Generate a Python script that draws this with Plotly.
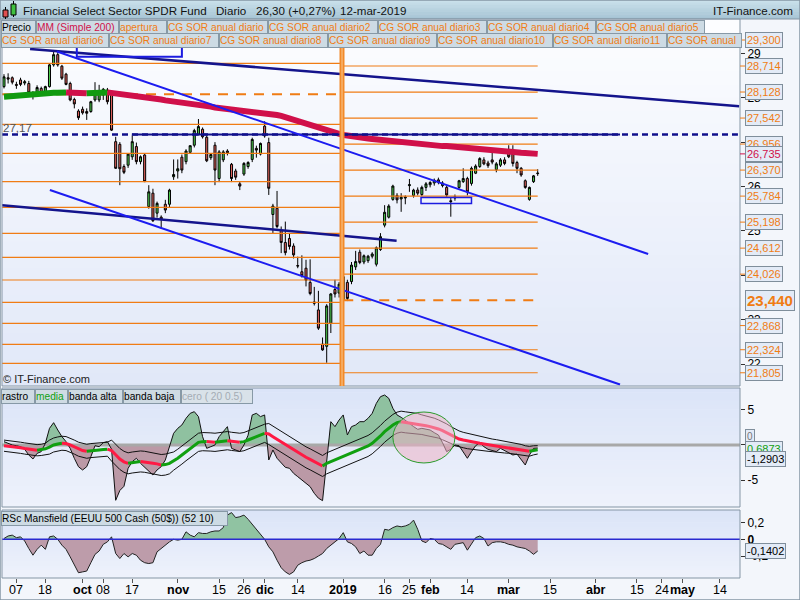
import plotly.graph_objects as go
import pandas as pd

# ---------------- DATA ----------------
holidays = ["2018-11-22", "2018-12-05", "2018-12-25", "2019-01-01",
            "2019-01-21", "2019-02-18", "2019-04-19"]
calendar = [d.strftime("%Y-%m-%d") for d in pd.bdate_range("2018-09-04", "2019-05-31")
            if d.strftime("%Y-%m-%d") not in holidays]
candle_dates = calendar[:130]

opens = [28.25, 28.45, 28.45, 28.30, 28.40, 28.33, 28.32, 28.10, 28.11, 28.21,
         28.11, 28.25, 28.74, 28.97, 28.71, 28.53, 28.32, 27.96, 27.70, 27.74,
         27.69, 27.69, 27.95, 27.95, 28.06, 28.17, 28.14, 27.01, 26.95, 26.45,
         26.48, 26.67, 26.90, 26.56, 26.71, 25.55, 25.85, 25.40, 25.31, 25.60,
         25.60, 26.22, 26.35, 26.66, 26.56, 26.77, 26.93, 27.18, 27.29, 27.11,
         26.65, 26.93, 26.18, 26.60, 26.80, 26.50, 26.35, 26.06, 26.28, 26.45,
         26.61, 26.86, 26.73, 27.36, 26.99, 25.37, 25.51, 25.02, 24.74, 24.83,
         24.66, 24.22, 24.08, 24.16, 23.84, 23.40, 23.22, 22.45, 22.40, 22.92,
         23.68, 23.60, 23.45, 23.84, 23.86, 24.19, 24.52, 24.30, 24.33, 24.43,
         24.25, 24.58, 25.13, 25.31, 25.71, 25.80, 25.72, 25.74, 26.02, 25.80,
         25.92, 25.82, 25.98, 26.04, 26.08, 26.15, 26.02, 25.98, 25.68, 25.74,
         25.98, 26.11, 26.18, 26.07, 26.30, 26.45, 26.60, 26.53, 26.60, 26.38,
         26.48, 26.60, 26.75, 26.73, 26.54, 26.41, 26.13, 25.71, 26.11, 26.29]
highs = [28.53, 28.55, 28.48, 28.36, 28.45, 28.40, 28.38, 28.15, 28.28, 28.25,
         28.27, 28.76, 29.05, 29.05, 28.74, 28.56, 28.36, 28.00, 27.74, 27.80,
         27.76, 27.93, 28.35, 28.29, 28.22, 28.22, 28.16, 27.12, 27.00, 26.50,
         26.75, 27.15, 26.99, 26.70, 26.74, 26.03, 25.95, 25.66, 25.35, 25.70,
         25.95, 26.61, 26.61, 26.72, 26.84, 26.92, 27.30, 27.52, 27.33, 27.15,
         26.75, 27.00, 26.82, 26.82, 26.84, 26.53, 26.40, 26.11, 26.55, 26.57,
         27.10, 26.92, 26.99, 27.47, 27.10, 25.61, 25.90, 25.10, 25.21, 24.95,
         24.72, 24.42, 24.45, 24.35, 24.36, 23.74, 23.65, 22.60, 23.35, 23.60,
         23.90, 23.85, 24.02, 23.90, 24.30, 24.55, 24.58, 24.47, 24.46, 24.52,
         24.65, 24.95, 25.58, 25.60, 26.04, 25.85, 25.85, 25.80, 26.17, 25.95,
         25.98, 26.02, 26.10, 26.12, 26.18, 26.20, 26.12, 26.02, 25.76, 25.82,
         26.15, 26.41, 26.22, 26.45, 26.50, 26.66, 26.66, 26.58, 26.76, 26.55,
         26.64, 26.66, 26.93, 26.93, 26.58, 26.44, 26.16, 26.00, 26.26, 26.39]
lows = [28.21, 28.32, 28.30, 28.20, 28.26, 28.28, 28.08, 27.96, 28.08, 28.08,
        28.08, 28.23, 28.70, 28.70, 28.40, 28.28, 27.92, 27.76, 27.50, 27.62,
        27.50, 27.66, 27.91, 27.90, 27.95, 27.85, 27.25, 26.40, 26.03, 26.28,
        26.42, 26.60, 26.50, 26.50, 26.10, 25.50, 25.20, 25.30, 25.05, 25.40,
        25.52, 26.15, 26.18, 26.30, 26.50, 26.74, 26.88, 27.15, 27.08, 26.55,
        26.60, 26.03, 26.10, 26.55, 26.70, 26.10, 26.15, 25.92, 26.24, 26.40,
        26.55, 26.65, 26.70, 27.10, 25.81, 24.95, 25.06, 24.50, 24.45, 24.58,
        24.38, 24.16, 23.95, 23.75, 23.55, 23.32, 22.77, 22.30, 22.03, 22.70,
        23.50, 23.50, 23.40, 23.42, 23.80, 24.12, 24.25, 24.25, 24.28, 24.38,
        24.20, 24.55, 25.08, 25.28, 25.68, 25.62, 25.43, 25.60, 25.88, 25.75,
        25.80, 25.78, 25.90, 25.98, 26.02, 26.05, 25.98, 25.75, 25.32, 25.68,
        25.95, 26.08, 25.80, 26.02, 26.28, 26.42, 26.48, 26.42, 26.50, 26.32,
        26.44, 26.48, 26.64, 26.45, 26.30, 26.22, 25.95, 25.68, 26.08, 26.24]
closes = [28.47, 28.42, 28.35, 28.28, 28.30, 28.36, 28.11, 28.08, 28.23, 28.11,
          28.25, 28.74, 28.97, 28.74, 28.44, 28.30, 27.95, 27.86, 27.55, 27.66,
          27.65, 27.91, 28.14, 28.10, 28.19, 27.91, 27.27, 26.41, 26.40, 26.32,
          26.73, 27.01, 26.56, 26.67, 26.11, 25.88, 25.23, 25.62, 25.27, 25.47,
          25.92, 26.27, 26.40, 26.37, 26.80, 26.92, 27.26, 27.35, 27.12, 26.58,
          26.72, 26.37, 26.78, 26.78, 26.76, 26.18, 26.21, 26.01, 26.52, 26.54,
          27.06, 26.82, 26.97, 27.14, 25.96, 25.56, 25.10, 24.74, 24.51, 24.65,
          24.46, 24.21, 23.99, 23.89, 23.59, 23.37, 22.81, 22.32, 23.31, 23.58,
          23.58, 23.80, 23.97, 23.48, 24.23, 24.31, 24.29, 24.44, 24.43, 24.48,
          24.62, 24.87, 25.42, 25.56, 26.01, 25.70, 25.76, 25.76, 26.04, 25.92,
          25.85, 25.98, 26.06, 26.09, 26.14, 26.10, 26.08, 25.81, 25.66, 25.77,
          26.13, 26.18, 25.88, 26.41, 26.46, 26.63, 26.51, 26.47, 26.55, 26.51,
          26.60, 26.52, 26.67, 26.52, 26.41, 26.26, 25.98, 25.98, 26.24, 26.30]

ma200 = [28.02, 28.03, 28.04, 28.05, 28.06, 28.06,
         28.07, 28.08, 28.08, 28.09, 28.10, 28.10, 28.11, 28.11, 28.115, 28.12,
         28.115, 28.11, 28.11, 28.105, 28.10,
         28.105, 28.11, 28.115, 28.12, 28.12,
         28.11, 28.10, 28.09, 28.08, 28.07, 28.05, 28.04, 28.02,
         28.01, 28.00, 27.98, 27.97, 27.96, 27.94, 27.93, 27.92, 27.91, 27.90, 27.89, 27.88, 27.86, 27.84,
         27.83, 27.81, 27.80, 27.78, 27.77, 27.75, 27.74, 27.72,
         27.71, 27.71, 27.70, 27.70, 27.69, 27.69, 27.68, 27.67, 27.66,
         27.64, 27.61, 27.59, 27.56, 27.54, 27.52, 27.49, 27.46,
         27.43, 27.40, 27.37, 27.34, 27.31, 27.28, 27.25, 27.22, 27.19, 27.16,
         27.15, 27.13, 27.12, 27.10, 27.09, 27.08, 27.07, 27.06, 27.05, 27.04, 27.02, 27.01, 27.00, 26.98,
         26.97, 26.97, 26.96, 26.95, 26.95, 26.94, 26.93, 26.93, 26.92, 26.91, 26.91, 26.90, 26.89, 26.89, 26.88, 26.87,
         26.86, 26.86, 26.85, 26.84, 26.83, 26.83, 26.82, 26.81, 26.80, 26.79, 26.78, 26.77, 26.76, 26.755, 26.75, 26.74, 26.735]

rastro = [0.48, 0.24, 0.0, -0.1, -0.24, -0.62, -1.43, -2.0, -1.2, -0.95,
          0.24, 2.38, 3.19, 2.14, 1.19, 0.48, -0.48, -1.9, -3.1, -3.57,
          -3.1, -1.67, -0.1, -0.24, 0.33, 0.48, -0.6, -7.9, -6.5, -5.9,
          -3.33, -2.38, -1.9, -2.62, -3.19, -3.8, -4.29, -3.57, -3.1, -2.14,
          -0.24, 1.67, 2.38, 2.86, 3.81, 4.52, 4.76, 4.05, 1.19, -0.48,
          -0.24, 0.0, 1.19, 1.9, 2.62, -0.48, -0.71, -0.95, 0.0, 1.4,
          4.29, 4.52, 4.05, 4.29, -2.14, -0.71, -1.9, -2.62, -3.19, -3.33,
          -4.05, -4.52, -5.0, -5.48, -5.95, -6.9, -7.6, -7.95, -1.9, 3.33,
          2.62, 3.57, 4.29, 1.43, 2.62, 2.86, 3.33, 3.33, 3.81, 4.52,
          5.95, 6.9, 7.14, 6.67, 5.24, 4.29, 3.95, 3.57, 3.1, 2.62,
          2.24, 2.38, 2.24, 2.14, 1.76, 1.43, 0.33, -0.95, -0.62, 0.0,
          -0.1, -0.95, -1.9, -0.95, -0.1, 0.33, -0.24, -0.62, -0.8, -0.95,
          -0.48, -0.8, -1.1, -1.43, -1.3, -2.14, -2.86, -1.43, -0.48, -0.45]
media = [-0.1, -0.15, -0.2, -0.3, -0.4, -0.5, -0.6, -0.7, -0.75, -0.7,
         -0.55, -0.3, 0.0, 0.15, 0.25, 0.2, 0.0, -0.3, -0.6, -0.8,
         -0.9, -0.8, -0.75, -0.7, -0.65, -0.6, -0.8, -1.4, -2.0, -2.4,
         -2.62, -2.5, -2.4, -2.35, -2.4, -2.5, -2.6, -2.7, -2.86, -2.8,
         -2.62, -2.3, -1.9, -1.43, -0.95, -0.48, 0.0, 0.38, 0.48, 0.5,
         0.43, 0.38, 0.43, 0.52, 0.62, 0.52, 0.43, 0.38, 0.48, 0.71,
         0.95, 1.19, 1.43, 1.67, 1.57, 1.19, 0.81, 0.48, 0.1, -0.24,
         -0.62, -1.0, -1.38, -1.76, -2.05, -2.38, -2.71, -3.0, -2.62, -2.38,
         -2.14, -1.9, -1.67, -1.43, -1.19, -0.95, -0.71, -0.48, -0.14, 0.24,
         0.71, 1.29, 1.9, 2.38, 2.86, 3.19, 3.33, 3.24, 3.19, 3.1,
         3.0, 2.9, 2.76, 2.62, 2.48, 2.29, 2.05, 1.76, 1.43, 1.1,
         0.86, 0.71, 0.57, 0.43, 0.33, 0.24, 0.14, 0.05, -0.05, -0.14,
         -0.19, -0.29, -0.38, -0.48, -0.57, -0.67, -0.81, -0.9, -0.76, -0.69]
band_width = [0.8, 0.8, 0.8, 0.8, 0.8, 0.8, 0.8, 0.8, 0.8, 0.8,
              0.8, 1.0, 1.0, 1.0, 1.0, 1.0, 1.0, 1.0, 1.0, 1.0,
              1.0, 1.0, 1.0, 1.0, 1.0, 1.0, 1.5, 1.5, 1.5, 1.5,
              1.5, 1.5, 1.5, 1.5, 1.5, 1.5, 1.5, 1.5, 1.5, 1.5,
              1.5, 1.3, 1.3, 1.3, 1.3, 1.3, 1.3, 1.3, 1.3, 1.3,
              1.3, 1.3, 1.3, 1.3, 1.3, 1.3, 1.3, 1.3, 1.3, 1.3,
              1.3, 1.3, 1.3, 1.3, 1.5, 1.5, 1.5, 1.5, 1.5, 1.5,
              1.5, 1.5, 1.5, 1.5, 1.5, 1.5, 1.5, 1.5, 1.5, 1.5,
              1.5, 1.5, 1.5, 1.5, 1.5, 1.5, 1.5, 1.5, 1.5, 1.5,
              1.5, 1.5, 1.5, 1.5, 1.5, 1.5, 1.5, 1.5, 1.5, 1.5,
              1.5, 1.4, 1.4, 1.35, 1.35, 1.3, 1.3, 1.25, 1.2, 1.2,
              1.15, 1.1, 1.1, 1.05, 1.0, 1.0, 0.95, 0.95, 0.9, 0.9,
              0.85, 0.85, 0.8, 0.8, 0.75, 0.75, 0.7, 0.7, 0.65, 0.6]
rsc = [0.01, 0.04, 0.05, 0.02, 0.03, -0.02, -0.11, -0.19, -0.12, -0.07,
       -0.12, 0.03, 0.04, 0.0, -0.07, -0.12, -0.21, -0.31, -0.4, -0.39,
       -0.38, -0.28, -0.18, -0.14, -0.06, -0.03, 0.03, -0.17, -0.23, -0.17,
       -0.21, -0.17, -0.19, -0.25, -0.28, -0.29, -0.28, -0.15, -0.11, -0.06,
       -0.03, 0.0, -0.01, 0.0, 0.09, 0.05, 0.03, 0.08, 0.07, 0.07,
       0.09, 0.10, 0.10, 0.14, 0.29, 0.32, 0.26, 0.27, 0.29, 0.24,
       0.18, 0.12, 0.06, 0.0, -0.09, -0.15, -0.25, -0.34, -0.39, -0.42,
       -0.39, -0.31, -0.28, -0.26, -0.25, -0.23, -0.2, -0.17, -0.11, -0.07,
       -0.04, 0.01, 0.08, -0.03, -0.05, -0.09, -0.17, -0.14, -0.19, -0.19,
       -0.11, -0.06, 0.12, 0.11, 0.14, 0.16, 0.15, 0.16, 0.18, 0.23,
       0.12, -0.02, -0.04, 0.01, 0.0, -0.05, -0.06, -0.09, -0.12, -0.06,
       -0.05, -0.04, -0.13, -0.05, 0.02, 0.04, 0.01, -0.08, -0.04, -0.03,
       -0.03, -0.04, -0.06, -0.07, -0.09, -0.1, -0.11, -0.14, -0.18, -0.14]

tick_dates = ["2018-09-07", "2018-09-18", "2018-10-01", "2018-10-08", "2018-10-17",
              "2018-11-01", "2018-11-15", "2018-11-26", "2018-12-03", "2018-12-14",
              "2019-01-02", "2019-01-16", "2019-01-25", "2019-02-01", "2019-02-14",
              "2019-03-01", "2019-03-15", "2019-04-01", "2019-04-15", "2019-04-24",
              "2019-05-01", "2019-05-14"]
tick_text = ["07", "18", "<b>oct</b>", "08", "17", "<b>nov</b>", "15", "26", "<b>dic</b>", "14",
             "<b>2019</b>", "16", "25", "<b>feb</b>", "14", "<b>mar</b>", "15", "<b>abr</b>",
             "15", "24", "<b>may</b>", "14"]

# yearly levels (previous year: left of year line; current year: right)
levels_prev = [28.775, 27.401, 26.748, 26.108, 25.532, 24.946, 24.405, 23.894,
               23.392, 22.919, 22.446, 22.018]
open_prev = 28.077
levels_cur = [29.300, 28.714, 28.128, 27.542, 26.956, 26.370, 25.784, 25.198,
              24.612, 24.026, 22.868, 22.324, 21.805]
open_cur = 23.440
level_cur_labels = ["29,300", "28,714", "28,128", "27,542", "26,956", "26,370", "25,784",
                    "25,198", "24,612", "24,026", "22,868", "22,324", "21,805"]
year_line_day = 81.7
prev_span = [-0.48, 81.5]
cur_span = [82.0, 129.0]

support_level = 27.17
support_dash_span = [-0.48, 177.4]
support_solid_span = [30.9, 148.9]

# trend lines: (day positions, prices)
trend_long_navy = ([6.3, 177.7], [29.10, 27.81])
trend_mid_navy = ([-0.48, 94.9], [25.58, 24.78])
trend_blue_upper = ([12.8, 155.7], [29.04, 24.48])
trend_blue_lower = ([11.1, 148.9], [25.92, 21.54])
box_top = ([17.6, 43.0], [28.92, 29.41])
box_feb = ([100.8, 113.0], [25.62, 25.75])
ellipse_ind = ([94.0, 109.0], [-2.57, 4.71])

last_ma = 26.735

# ---------------- LAYOUT HELPERS ----------------
W, H = 800, 600
FONT = "Liberation Sans, Arial, sans-serif"
def PX(px): return px / W
def PY(py): return 1 - py / H

X_RANGE = [-0.48, 177.9]
MAIN = (17, 386)
IND1 = (388, 507)
IND2 = (510, 578)
XL, XR = 2, 740

shapes, annots = [], []

def hexrgb(c):
    c = c.lstrip('#')
    return tuple(int(c[i:i + 2], 16) for i in (0, 2, 4))

def grad(px0, px1, py0, py1, ctop, cbot, n=28):
    a, b = hexrgb(ctop), hexrgb(cbot)
    for k in range(n):
        t = k / (n - 1)
        col = "rgb(%d,%d,%d)" % tuple(round(a[j] + (b[j] - a[j]) * t) for j in range(3))
        y0 = py0 + (py1 - py0) * k / n
        y1 = py0 + (py1 - py0) * (k + 1) / n + 0.6
        shapes.append(dict(type="rect", xref="paper", yref="paper", x0=PX(px0), x1=PX(px1),
                           y0=PY(min(y1, py1)), y1=PY(y0), fillcolor=col,
                           line=dict(width=0), layer="below"))

# panel backgrounds
grad(XL, XR, 19, MAIN[1], "#fcfdff", "#e1e8f8")
grad(XL, XR, IND1[0], IND1[1], "#dbe4f8", "#eef2fb")
grad(XL, XR, IND2[0], IND2[1], "#dbe4f8", "#eef2fb")
# header
grad(0, 800, 0, 19, "#c9e0ea", "#a7c5d5", n=8)
for (a, b) in (MAIN, IND1, IND2):
    shapes.append(dict(type="rect", xref="paper", yref="paper", x0=PX(XL), x1=PX(XR),
                       y0=PY(b), y1=PY(a if a != MAIN[0] else 19),
                       line=dict(color="#8596a5", width=1), layer="above"))
shapes.append(dict(type="line", xref="paper", yref="paper", x0=0, x1=1, y0=PY(19), y1=PY(19),
                   line=dict(color="#8596a5", width=1)))
shapes.append(dict(type="rect", xref="paper", yref="paper", x0=0, x1=1, y0=0, y1=1,
                   line=dict(color="#8596a5", width=1.5)))

# header icon
for (x0, x1, y0, y1, wx, wy0, wy1, col) in [(3, 8, 10, 17, 5.5, 7, 19, "#e05050"),
                                            (11, 16, 4, 15, 13.5, 1, 17, "#40c040")]:
    shapes.append(dict(type="line", xref="paper", yref="paper", x0=PX(wx), x1=PX(wx),
                       y0=PY(wy1), y1=PY(wy0), line=dict(color="black", width=1)))
    shapes.append(dict(type="rect", xref="paper", yref="paper", x0=PX(x0), x1=PX(x1),
                       y0=PY(y1), y1=PY(y0), fillcolor=col, line=dict(color="black", width=1)))

def text(t, px, py, size=12, color="#111", anchor="left", bold=False):
    annots.append(dict(xref="paper", yref="paper", x=PX(px), y=PY(py), xanchor=anchor,
                       yanchor="middle", text=("<b>%s</b>" % t) if bold else t, showarrow=False,
                       font=dict(family=FONT, size=size, color=color)))

text("Financial Select Sector SPDR Fund", 21, 10.5, 11.6)
text("Diario", 214, 10.5, 11.6)
text("26,30 (+0,27%)", 254, 10.5, 11.6)
text("12-mar-2019", 338, 10.5, 11.6)
text("IT-Finance.com", 795, 10.5, 11.6, anchor="right")

def box(t, px0, px1, pyc, color, bg="#cddbe4", size=10.2, h=13):
    annots.append(dict(xref="paper", yref="paper", x=PX(px0), y=PY(pyc), xanchor="left",
                       yanchor="middle", text=t, showarrow=False, align="left",
                       font=dict(family=FONT, size=size, color=color), bgcolor=bg,
                       bordercolor="#8799a6", borderwidth=1, borderpad=0,
                       width=px1 - px0 - 2, height=h))

ORANGE = "#f07c14"
row1 = [("Precio", 0, 35, "#000"), ("MM (Simple 200)", 35, 118, "#d0104a"),
        ("apertura", 118, 166, ORANGE), ("CG SOR anual diario", 166, 267, ORANGE),
        ("CG SOR anual diario2", 267, 377, ORANGE), ("CG SOR anual diario3", 377, 486, ORANGE),
        ("CG SOR anual diario4", 486, 595, ORANGE), ("CG SOR anual diario5", 595, 704, ORANGE)]
row2 = [("CG SOR anual diario6", 0, 108, ORANGE), ("CG SOR anual diario7", 108, 218, ORANGE),
        ("CG SOR anual diario8", 218, 327, ORANGE), ("CG SOR anual diario9", 327, 436, ORANGE),
        ("CG SOR anual diario10", 436, 552, ORANGE), ("CG SOR anual diario11", 552, 666, ORANGE),
        ("CG SOR anual", 666, 741, ORANGE)]
for (t, a, b, c) in row1:
    box(t, a + 1, b + 1, 27, c)
for (t, a, b, c) in row2:
    box(t, a + 1, b + 1, 40.5, c)
for (t, a, b, c) in [("rastro", 0, 34, "#000"), ("media", 34, 67, "#10a010"),
                     ("banda alta", 67, 122, "#000"), ("banda baja", 122, 180, "#000"),
                     ("cero ( 20 0.5)", 180, 252, "#a4acb4")]:
    box(t, a + 1, b + 1, 396, c, bg="#cfdbe3" if c != "#a4acb4" else "#d9e2e9")
box("RSc Mansfield (EEUU 500 Cash (50$)) (52 10)", 1, 228, 518, "#000")

text("27,17", 1, 128, 11.5, "#555")
text("© IT-Finance.com", 1, 379, 11, "#222")

# right price labels
def rlabel(t, yval, yref, color, size=11, bold=False):
    annots.append(dict(xref="paper", yref=yref, x=PX(745), y=yval, xanchor="left",
                       yanchor="middle", text=("<b>%s</b>" % t) if bold else t, showarrow=False,
                       font=dict(family=FONT, size=size, color=color), bgcolor="#e3ebf7",
                       bordercolor="#7f8e9b", borderwidth=1, borderpad=1))

for lv, lab in zip(levels_cur, level_cur_labels):
    shapes.append(dict(type="line", xref="paper", yref="y", x0=PX(740), x1=PX(746), y0=lv, y1=lv,
                       line=dict(color=ORANGE, width=1)))
    rlabel(lab, lv, "y", ORANGE)
shapes.append(dict(type="line", xref="paper", yref="y", x0=PX(740), x1=PX(746), y0=last_ma,
                   y1=last_ma, line=dict(color="#d0104a", width=1)))
rlabel("26,735", last_ma, "y", "#d0104a")
rlabel("23,440", open_cur, "y", ORANGE, size=15, bold=True)

rlabel("0", 1.15, "y2", "#777", size=10)
rlabel("0,6873", -0.6, "y2", "#10a010", size=11)
rlabel("-1,2903", -2.05, "y2", "#000", size=11)
rlabel("-0,1402", -0.14, "y3", "#000", size=11)

# x-axis date labels
for d, t in zip(tick_dates, tick_text):
    annots.append(dict(xref="x3", yref="paper", x=calendar.index(d), y=PY(590), xanchor="center",
                       yanchor="middle", text=t, showarrow=False,
                       font=dict(family=FONT, size=12.5, color="#000")))

# ---------------- FIGURE ----------------
fig = go.Figure()
cx = [calendar.index(d) for d in candle_dates]

def seg_line(xs, ys, color, width, xa="x", ya="y", dash=None):
    fig.add_trace(go.Scatter(x=xs, y=ys, mode="lines", xaxis=xa, yaxis=ya, hoverinfo="skip",
                             line=dict(color=color, width=width, dash=dash)))

# yearly levels
for lv in levels_prev:
    seg_line(prev_span, [lv, lv], ORANGE, 1.2)
seg_line(prev_span, [open_prev, open_prev], ORANGE, 2, dash="10px,8px")
for lv in levels_cur:
    seg_line(cur_span, [lv, lv], ORANGE, 1.2)
seg_line(cur_span, [open_cur, open_cur], ORANGE, 2, dash="10px,8px")

def color_segments(xs, ys, up, down):
    segs, cur, sx, sy = [], None, [], []
    for k in range(len(xs)):
        if k == 0:
            col = up if ys[1] >= ys[0] else down
        else:
            d = ys[k] - ys[k - 1]
            col = up if d > 0 else (down if d < 0 else cur)
        if col != cur and sx:
            segs.append((cur, sx, sy))
            sx, sy = [sx[-1]], [sy[-1]]
        cur = col
        sx.append(xs[k]); sy.append(ys[k])
    segs.append((cur, sx, sy))
    return segs

for col, sx, sy in color_segments(cx, ma200, "#109a10", "#d0104a"):
    seg_line(sx, sy, col, 6)

seg_line(support_solid_span, [support_level, support_level], "#10108c", 2)
seg_line(support_dash_span, [support_level, support_level], "#10108c", 2.5, dash="6px,4px")

fig.add_trace(go.Candlestick(x=cx, open=opens, high=highs, low=lows, close=closes,
                             xaxis="x", yaxis="y", whiskerwidth=0, hoverinfo="skip",
                             increasing=dict(fillcolor="#4ccb4c", line=dict(color="#000", width=1)),
                             decreasing=dict(fillcolor="#e2625c", line=dict(color="#000", width=1))))

seg_line(*trend_long_navy, "#14148c", 2.5)
seg_line(*trend_mid_navy, "#14148c", 2.5)
seg_line(*trend_blue_upper, "#1c1cf0", 2)
seg_line(*trend_blue_lower, "#1c1cf0", 2)
shapes.append(dict(type="rect", xref="x", yref="y", x0=box_top[0][0], x1=box_top[0][1],
                   y0=box_top[1][0], y1=box_top[1][1], line=dict(color="#1c1ce0", width=2),
                   layer="above"))
shapes.append(dict(type="rect", xref="x", yref="y", x0=box_feb[0][0], x1=box_feb[0][1],
                   y0=box_feb[1][0], y1=box_feb[1][1], line=dict(color="#1c1ce0", width=1.5),
                   layer="above"))
# year separator
shapes.append(dict(type="line", xref="x", yref="paper", x0=year_line_day, x1=year_line_day,
                   y0=PY(MAIN[1]), y1=PY(19), line=dict(color="#f28a2a", width=5), layer="above"))
shapes.append(dict(type="line", xref="x", yref="paper", x0=year_line_day, x1=year_line_day,
                   y0=PY(MAIN[1]), y1=PY(19), line=dict(color="#f9c890", width=1), layer="above"))

# ---- indicator 1 ----
def split_sign(xs, ys):
    X, P, N = [], [], []
    for k in range(len(xs)):
        if k > 0:
            y0, y1 = ys[k - 1], ys[k]
            if (y0 > 0 > y1) or (y0 < 0 < y1):
                t = y0 / (y0 - y1)
                X.append(xs[k - 1] + t * (xs[k] - xs[k - 1])); P.append(0); N.append(0)
        X.append(xs[k]); P.append(max(ys[k], 0)); N.append(min(ys[k], 0))
    return X, P, N

X1, P1, N1 = split_sign(cx, rastro)
fig.add_trace(go.Scatter(x=X1, y=P1, xaxis="x2", yaxis="y2", mode="lines", fill="tozeroy",
                         fillcolor="#8fc1a0", line=dict(width=0), hoverinfo="skip"))
fig.add_trace(go.Scatter(x=X1, y=N1, xaxis="x2", yaxis="y2", mode="lines", fill="tozeroy",
                         fillcolor="#bb99a6", line=dict(width=0), hoverinfo="skip"))
seg_line([X_RANGE[0], X_RANGE[1]], [0, 0], "#a8a8a8", 3, "x2", "y2")
seg_line(cx, rastro, "#111", 1, "x2", "y2")
seg_line(cx, [m + w for m, w in zip(media, band_width)], "#111", 1, "x2", "y2")
seg_line(cx, [m - w for m, w in zip(media, band_width)], "#111", 1, "x2", "y2")
for col, sx, sy in color_segments(cx, media, "#10a010", "#ff1a44"):
    seg_line(sx, sy, col, 3, "x2", "y2")
shapes.append(dict(type="circle", xref="x2", yref="y2", x0=ellipse_ind[0][0], x1=ellipse_ind[0][1],
                   y0=ellipse_ind[1][0], y1=ellipse_ind[1][1], fillcolor="rgba(236,178,196,0.55)",
                   line=dict(color="#2a9a2a", width=1), layer="above"))

# ---- indicator 2 ----
X2, P2, N2 = split_sign(cx, rsc)
fig.add_trace(go.Scatter(x=X2, y=P2, xaxis="x3", yaxis="y3", mode="lines", fill="tozeroy",
                         fillcolor="#90c3a2", line=dict(width=0), hoverinfo="skip"))
fig.add_trace(go.Scatter(x=X2, y=N2, xaxis="x3", yaxis="y3", mode="lines", fill="tozeroy",
                         fillcolor="#bd9caa", line=dict(width=0), hoverinfo="skip"))
seg_line(cx, rsc, "#222", 1, "x3", "y3")
seg_line([X_RANGE[0], X_RANGE[1]], [0, 0], "#2a2ad0", 1.5, "x3", "y3")

dom_x = [PX(XL), PX(XR)]
ax_common = dict(range=X_RANGE, domain=dom_x, showgrid=False, zeroline=False, showline=False,
                 fixedrange=True)
y_common = dict(side="right", showgrid=False, zeroline=False, showline=False, ticks="outside",
                ticklen=4, tickcolor="#333", tickfont=dict(family=FONT, size=12, color="#000"))

fig.update_layout(
    width=W, height=H, margin=dict(l=0, r=0, t=0, b=0), showlegend=False,
    paper_bgcolor="#f3f6fb", plot_bgcolor="rgba(0,0,0,0)",
    xaxis=dict(**ax_common, anchor="y", showticklabels=False, rangeslider=dict(visible=False)),
    xaxis2=dict(**ax_common, anchor="y2", matches="x", showticklabels=False),
    xaxis3=dict(**ax_common, anchor="y3", matches="x", showticklabels=False,
                tickvals=[calendar.index(d) for d in tick_dates],
                ticks="outside", ticklen=4, tickcolor="#555"),
    yaxis=dict(**y_common, anchor="x", domain=[PY(MAIN[1]), PY(MAIN[0])], range=[21.507, 29.818],
               tickvals=[22, 23, 24, 25, 26, 27, 28, 29],
               ticktext=["22", "23", "24", "25", "26", "27", "28", "29"]),
    yaxis2=dict(**y_common, anchor="x2", domain=[PY(IND1[1]), PY(IND1[0])], range=[-8.857, 8.14],
                tickvals=[5, 0, -5], ticktext=["5", "0", "-5"]),
    yaxis3=dict(**y_common, anchor="x3", domain=[PY(IND2[1]), PY(IND2[0])], range=[-0.463, 0.351],
                tickvals=[0.2, 0, -0.2], ticktext=["0,2", "<b>0</b>", "-0,2"]),
    shapes=shapes, annotations=annots,
)

fig.write_html("out.html", config={"displayModeBar": False, "staticPlot": True},
               post_script="document.body.style.margin='0';document.body.style.overflow='hidden';")
